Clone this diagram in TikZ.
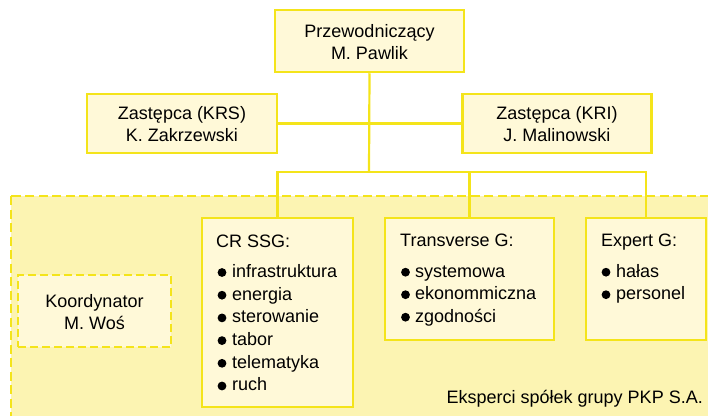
\documentclass[tikz,border=0pt]{standalone}
\usepackage{fontspec}
\setmainfont{Liberation Sans}
\definecolor{ybord}{HTML}{F4E41A}
\definecolor{yfill}{HTML}{FFF9D8}
\definecolor{yarea}{HTML}{FCF4B2}
\begin{document}
\begin{tikzpicture}[x=1pt,y=-1pt,
  box/.style={draw=ybord,fill=yfill,line width=2.5pt,inner sep=0pt},
  conn/.style={draw=ybord,line width=2.2pt},
  txt/.style={inner sep=0pt,font=\fontsize{18}{22}\selectfont,align=center},
  lt/.style={inner sep=0pt,font=\fontsize{18}{22}\selectfont,anchor=base west},
  bul/.style={fill=black}]
\useasboundingbox (0,0) rectangle (708,415);
\clip (0,0) rectangle (708,415);
% area
\draw[draw=ybord,fill=yarea,line width=2.6pt,dash pattern=on 9pt off 4.5pt] (11,196) rectangle (720,430);
% boxes
\node[box,minimum width=189pt,minimum height=62pt] (top) at (369.5,41) {};
\node[box,minimum width=190pt,minimum height=59pt] (krs) at (182,123.5) {};
\node[box,minimum width=189pt,minimum height=59pt] (kri) at (557,123.5) {};
\node[box,minimum width=151pt,minimum height=189pt] (cr) at (277.5,312.5) {};
\node[box,minimum width=169pt,minimum height=122pt] (tr) at (469.5,279) {};
\node[box,minimum width=120pt,minimum height=122pt] (ex) at (646,279) {};
\node[box,fill=yfill,dash pattern=on 8pt off 4pt,minimum width=153pt,minimum height=72pt] (ko) at (94.5,311) {};
% connectors
\coordinate (bus) at (369,172);
\draw[conn] (top.south) -- (bus);
\draw[conn] (krs.east) -- (kri.west);
\draw[conn] (cr.north) |- (bus) -| (ex.north);
\draw[conn] (tr.north) -- (tr.north |- bus);
% box texts
\node[txt] (topt) at (369.5,42) {Przewodniczący\\M. Pawlik};
\node[txt] (krst) at (182,124.5) {Zastępca (KRS)\\K. Zakrzewski};
\node[txt] (krit) at (557,124.5) {Zastępca (KRI)\\J. Malinowski};
\node[txt] (kot) at (94.5,312) {Koordynator\\M. Woś};
% CR SSG
\node[lt] (crh) at (216,247.5) {CR SSG:};
\foreach \t [count=\i] in {infrastruktura,energia,sterowanie,tabor,telematyka,ruch}{
  \node[lt] (cr\i) at (232,{277.3+(\i-1)*22.7}) {\t};
  \fill[bul] (222,{277.3+(\i-1)*22.7-4.8}) circle (4.4pt);
}
% Transverse
\node[lt] (trh) at (400,246.5) {Transverse G:};
\foreach \t [count=\i] in {systemowa,ekonommiczna,zgodności}{
  \node[lt] (tr\i) at (415,{277+(\i-1)*22.5}) {\t};
  \fill[bul] (405.5,{277+(\i-1)*22.5-4.8}) circle (4.4pt);
}
% Expert
\node[lt] (exh) at (601,246.5) {Expert G:};
\foreach \t [count=\i] in {hałas,personel}{
  \node[lt] (ex\i) at (616,{277+(\i-1)*22.5}) {\t};
  \fill[bul] (606,{277+(\i-1)*22.5-4.8}) circle (4.4pt);
}
\node[lt,anchor=base east] (eks) at (703,403) {Eksperci spółek grupy PKP S.A.};
\end{tikzpicture}
\end{document}
